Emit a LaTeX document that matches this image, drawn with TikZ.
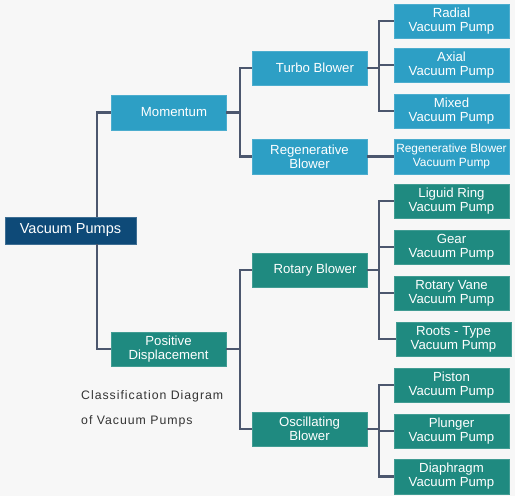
\documentclass[tikz,border=0pt]{standalone}
\usepackage{fontspec}
\setmainfont{Liberation Sans}
\newfontfamily\capfont[LetterSpace=8]{Liberation Sans}
\definecolor{bgc}{HTML}{F7F7F7}
\definecolor{bluebox}{HTML}{2D9FC5}
\definecolor{tealbox}{HTML}{1F8A80}
\definecolor{darkbox}{HTML}{0E4A78}
\definecolor{linec}{HTML}{4C576E}
\definecolor{capc}{HTML}{333333}
\tikzset{
  box/.style={minimum width=115pt, minimum height=34pt, inner sep=0pt, align=center,
    text=white, font=\fontsize{13.2}{14}\selectfont},
  bbox/.style={box, fill=bluebox, draw=bluebox!85!white, line width=0.6pt},
  tbox/.style={box, fill=tealbox, draw=tealbox!85!white, line width=0.6pt},
  padl/.style={execute at begin node=\hspace*{11pt}},
  conn/.style={draw=linec, line width=2.6pt, line join=miter, line cap=butt},
  captext/.style={anchor=base west, inner sep=0pt, text=capc, font=\capfont\fontsize{12.3}{15}\selectfont}
}
\begin{document}
\begin{tikzpicture}[x=1pt,y=-1pt]
\useasboundingbox[fill=bgc] (0,0) rectangle (515,496);
% trunk coordinates
\coordinate (t0) at (97,0);
\coordinate (t1) at (240,0);
\coordinate (t2) at (379,0);
% nodes
\node[box, fill=darkbox, draw=darkbox!80!white, line width=0.6pt, minimum width=131pt, minimum height=27pt,
  font=\fontsize{14.5}{16}\selectfont] (root) at (70.5,230.5) {Vacuum Pumps};
\node[bbox, padl, minimum height=35pt] (mom) at (168.5,112.5) {Momentum};
\node[tbox] (pd) at (168.5,349) {Positive\\Displacement};
\node[bbox, padl] (turbo) at (309.5,68) {Turbo Blower};
\node[bbox, minimum height=35pt] (regen) at (309.5,156.5) {Regenerative\\Blower};
\node[tbox, padl] (rotary) at (309.5,270) {Rotary Blower};
\node[tbox] (oscill) at (309.5,429) {Oscillating\\Blower};
\node[bbox] (radial) at (451.5,21) {Radial\\Vacuum Pump};
\node[bbox] (axial) at (451.5,65) {Axial\\Vacuum Pump};
\node[bbox] (mixed) at (451.5,111) {Mixed\\Vacuum Pump};
\node[bbox, minimum height=35pt, font=\fontsize{11.9}{14}\selectfont] (regvp) at (451.5,156.5) {Regenerative Blower\\Vacuum Pump};
\node[tbox] (liquid) at (451.5,201) {Liguid Ring\\Vacuum Pump};
\node[tbox] (gear) at (451.5,247) {Gear\\Vacuum Pump};
\node[tbox] (vane) at (451.5,293) {Rotary Vane\\Vacuum Pump};
\node[tbox] (roots) at (453.5,339) {Roots - Type\\Vacuum Pump};
\node[tbox] (piston) at (451.5,385) {Piston\\Vacuum Pump};
\node[tbox] (plunger) at (451.5,431) {Plunger\\Vacuum Pump};
\node[tbox, minimum height=35pt] (diaph) at (451.5,476.5) {Diaphragm\\Vacuum Pump};
% caption
\node[captext] (cap1) at (81,399.5) {Classification Diagram};
\node[captext] (cap2) at (81,424.3) {of Vacuum Pumps};
% connectors
\draw[conn] (t0 |- root.north) |- (mom.west);
\draw[conn] (t0 |- root.south) |- (pd.west);
\draw[conn] (mom.east) -- (mom.east -| t1);
\draw[conn] (turbo.west) -| (t1 |- regen.west) -- (regen.west);
\draw[conn] (pd.east) -- (pd.east -| t1);
\draw[conn] (rotary.west) -| (t1 |- oscill.west) -- (oscill.west);
\draw[conn] (turbo.east) -- (turbo.east -| t2);
\draw[conn] (radial.west) -| (t2 |- mixed.west) -- (mixed.west);
\draw[conn] (axial.west) -- (axial.west -| t2);
\draw[conn] (regen.east) -- (regvp.west);
\draw[conn] (rotary.east) -- (rotary.east -| t2);
\draw[conn] (liquid.west) -| (t2 |- roots.west) -- (roots.west);
\draw[conn] (gear.west) -- (gear.west -| t2);
\draw[conn] (vane.west) -- (vane.west -| t2);
\draw[conn] (oscill.east) -- (oscill.east -| t2);
\draw[conn] (piston.west) -| (t2 |- diaph.west) -- (diaph.west);
\draw[conn] (plunger.west) -- (plunger.west -| t2);
\end{tikzpicture}
\end{document}
